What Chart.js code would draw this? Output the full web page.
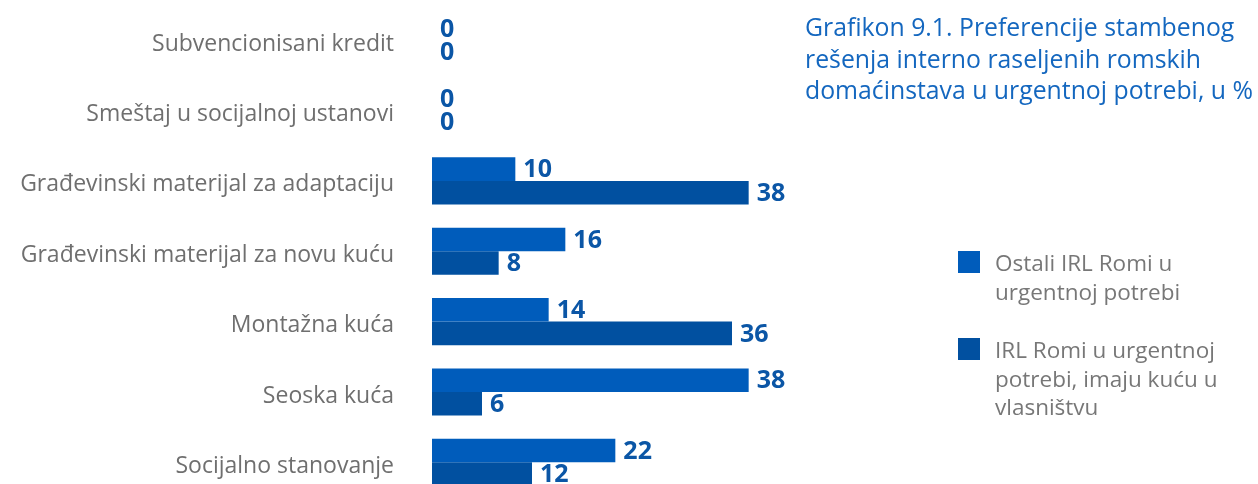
<!DOCTYPE html>
<html>
<head>
<meta charset="utf-8">
<script src="https://cdn.jsdelivr.net/npm/chart.js@4/dist/chart.umd.min.js"></script>
<style>
  body { margin: 0; background: #fff; overflow: hidden; font-family: "Open Sans", sans-serif; }
  #wrap { position: relative; width: 1258px; height: 500px; }
  #title { position: absolute; left: 805px; top: 11px; color: #1467bf; font-size: 24.8px; line-height: 31.5px; white-space: nowrap; }
  .leg { position: absolute; left: 958px; color: #777; font-size: 22.5px; line-height: 28.5px; }
  .leg span.box { position: absolute; left: 0; top: 2px; width: 22px; height: 22px; }
  .leg div { margin-left: 37px; white-space: nowrap; }
</style>
</head>
<body>
<div id="wrap">
  <canvas id="chart"></canvas>
  <div id="title">Grafikon 9.1. Preferencije stambenog<br>rešenja interno raseljenih romskih<br>domaćinstava u urgentnoj potrebi, u %</div>
  <div class="leg" id="leg1" style="top:249px"><span class="box"></span><div></div></div>
  <div class="leg" id="leg2" style="top:336px"><span class="box"></span><div></div></div>
</div>
<script>
const categories = ['Subvencionisani kredit', 'Smeštaj u socijalnoj ustanovi', 'Građevinski materijal za adaptaciju',
  'Građevinski materijal za novu kuću', 'Montažna kuća', 'Seoska kuća', 'Socijalno stanovanje'];
const ostaliRomi = [0, 0, 10, 16, 14, 38, 22];
const romiSaKucom = [0, 0, 38, 8, 36, 6, 12];
const seriesNames = ['Ostali IRL Romi u<br>urgentnoj potrebi', 'IRL Romi u urgentnoj<br>potrebi, imaju kuću u<br>vlasništvu'];
const colors = ['#005cbb', '#0150a0'];

// legend on the right
['leg1', 'leg2'].forEach((id, i) => {
  const el = document.getElementById(id);
  el.querySelector('.box').style.background = colors[i];
  el.querySelector('div').innerHTML = seriesNames[i];
});

const valueLabels = {
  id: 'valueLabels',
  afterLayout(chart) {
    // category labels sit a little below the bar pair centre in the original
    chart.scales.y.getLabelItems(chart.chartArea).forEach(it => { it.options.translation[1] += 4; });
  },
  afterDatasetsDraw(chart) {
    const ctx = chart.ctx;
    ctx.save();
    ctx.font = 'bold 25px "Open Sans"';
    ctx.fillStyle = '#0b56a6';
    ctx.textBaseline = 'middle';
    ctx.textAlign = 'left';
    chart.data.datasets.forEach((ds, di) => {
      chart.getDatasetMeta(di).data.forEach((bar, i) => {
        ctx.fillText(ds.data[i], bar.x + 8, bar.y + 1);
      });
    });
    ctx.restore();
  }
};

new Chart(document.getElementById('chart'), {
  type: 'bar',
  data: {
    labels: categories,
    datasets: [
      { label: 'Ostali IRL Romi u urgentnoj potrebi', data: ostaliRomi, backgroundColor: colors[0] },
      { label: 'IRL Romi u urgentnoj potrebi, imaju kuću u vlasništvu', data: romiSaKucom, backgroundColor: colors[1] }
    ]
  },
  options: {
    indexAxis: 'y',
    responsive: true,
    maintainAspectRatio: false,
    animation: false,
    datasets: { bar: { categoryPercentage: 0.67, barPercentage: 1.0 } },
    layout: { padding: { top: 5, bottom: 2.5, right: 326 } },
    plugins: { legend: { display: false }, title: { display: false }, tooltip: { enabled: false } },
    scales: {
      x: { display: false, min: 0, max: 60 },
      y: {
        grid: { display: false, drawTicks: false },
        border: { display: false },
        afterFit(scale) {
          scale.width = 432;
          scale.paddingTop = 0;
          scale.paddingBottom = 0;
        },
        ticks: { padding: 38, color: '#6f6f6f', font: { family: 'Open Sans', size: 23 } }
      }
    }
  },
  plugins: [valueLabels]
});
</script>
</body>
</html>
